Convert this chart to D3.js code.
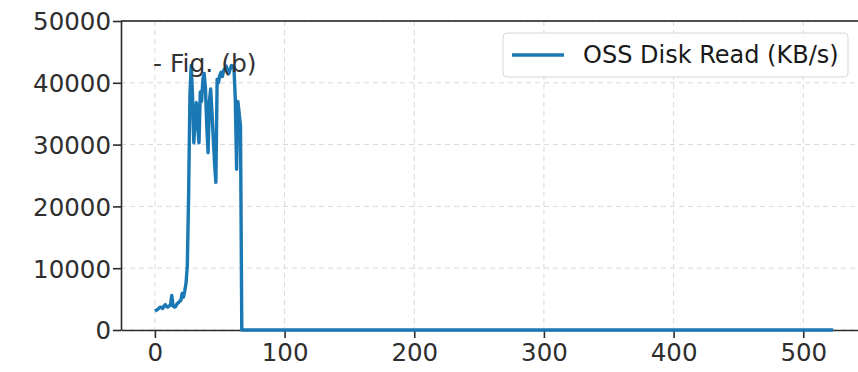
<!DOCTYPE html>
<html>
<head>
<meta charset="utf-8">
<script src="https://cdn.jsdelivr.net/npm/d3@7"></script>
<style>
  html, body { margin: 0; padding: 0; background: #fff; }
  svg { display: block; }
  text { font-family: "DejaVu Sans", sans-serif; }
</style>
</head>
<body>
<svg id="chart" width="858" height="372"></svg>
<script>
// Time (s) and OSS disk read throughput (KB/s)
const times = [0,1,2,3,4,5,6,7,8,9,10,11,12,13,14,15,16,17,18,19,20,21,22,23,24,25,26,27,28,29,
  30,31,32,33,34,35,36,37,38,39,40,41,42,43,44,45,46,47,48,49,50,51,52,53,54,55,56,57,58,59,
  60,61,62,63,64,65,66,67,100,150,200,250,300,350,400,450,500,523];
const readKBs = [3100,3200,3300,3500,3700,3600,3500,3900,4100,3800,3700,3900,4000,5600,3900,3700,3800,4200,4400,4600,
  4800,5900,5300,6300,7600,10400,22000,38000,42800,38000,30300,34000,36800,33000,30300,38500,37000,40600,41500,39000,
  33000,28700,37000,39000,35200,31000,27000,23900,40600,40000,41200,41700,41000,42000,42300,42700,42000,41500,42200,42800,
  42700,42300,37300,26000,37000,35000,33000,0,0,0,0,0,0,0,0,0,0,0];

const xTicks = [0, 100, 200, 300, 400, 500];
const yTicks = [0, 10000, 20000, 30000, 40000, 50000];
const seriesName = "OSS Disk Read (KB/s)";
const noteText = "- Fig. (b)";

const lineColor = "#1a78b4";
const margin = { left: 121, top: 21, right: 867, bottom: 330 };

const svg = d3.select("#chart");

const x = d3.scaleLinear().domain([-26.15, 549.15]).range([margin.left, margin.right]);
const y = d3.scaleLinear().domain([0, 50000]).range([margin.bottom, margin.top]);

// Grid lines
const grid = svg.append("g");
grid.selectAll("line.gx").data(xTicks).join("line")
  .attr("x1", d => x(d)).attr("x2", d => x(d))
  .attr("y1", margin.top).attr("y2", margin.bottom)
  .attr("stroke", "#d9d9d9").attr("stroke-width", 1).attr("stroke-dasharray", "5,4");
grid.selectAll("line.gy").data(yTicks).join("line")
  .attr("x1", margin.left).attr("x2", margin.right)
  .attr("y1", d => y(d)).attr("y2", d => y(d))
  .attr("stroke", "#d9d9d9").attr("stroke-width", 1).attr("stroke-dasharray", "5,4");

// Axes
const xAxis = svg.append("g")
  .attr("transform", `translate(0,${margin.bottom})`)
  .call(d3.axisBottom(x).tickValues(xTicks).tickSize(8).tickSizeOuter(0).tickPadding(6).tickFormat(d3.format("d")));
const yAxis = svg.append("g")
  .attr("transform", `translate(${margin.left},0)`)
  .call(d3.axisLeft(y).tickValues(yTicks).tickSize(8).tickSizeOuter(0).tickPadding(2).tickFormat(d3.format("d")));

[xAxis, yAxis].forEach(a => {
  a.select(".domain").attr("stroke", "#2b2b2b").attr("stroke-width", 1.6);
  a.selectAll(".tick line").attr("stroke", "#2b2b2b").attr("stroke-width", 1.6);
  a.selectAll(".tick text").attr("fill", "#2e2e2e").style("font-size", "24.5px")
    .style("font-family", "'DejaVu Sans', sans-serif");
});
yAxis.selectAll(".tick text").attr("dy", "0.36em");

// Top spine
svg.append("line")
  .attr("x1", margin.left).attr("x2", margin.right)
  .attr("y1", margin.top).attr("y2", margin.top)
  .attr("stroke", "#1a1a1a").attr("stroke-width", 1.6);

// Series line
const line = d3.line().x((d, i) => x(times[i])).y(d => y(d));
svg.append("path")
  .datum(readKBs)
  .attr("d", line)
  .attr("fill", "none")
  .attr("stroke", lineColor)
  .attr("stroke-width", 3.4)
  .attr("stroke-linejoin", "round");

// Annotation
svg.append("text")
  .attr("x", 153).attr("y", 72)
  .attr("fill", "#333")
  .style("font-size", "25px")
  .text(noteText);

// Legend
const lg = svg.append("g");
lg.append("rect")
  .attr("x", 503).attr("y", 33).attr("width", 345).attr("height", 44)
  .attr("rx", 4).attr("fill", "rgba(255,255,255,0.85)")
  .attr("stroke", "#d6d6d6").attr("stroke-width", 1);
lg.append("line")
  .attr("x1", 512).attr("x2", 564).attr("y1", 55).attr("y2", 55)
  .attr("stroke", lineColor).attr("stroke-width", 3.4);
lg.append("text")
  .attr("x", 583).attr("y", 63)
  .attr("fill", "#1a1a1a")
  .style("font-size", "24px")
  .text(seriesName);
</script>
</body>
</html>
